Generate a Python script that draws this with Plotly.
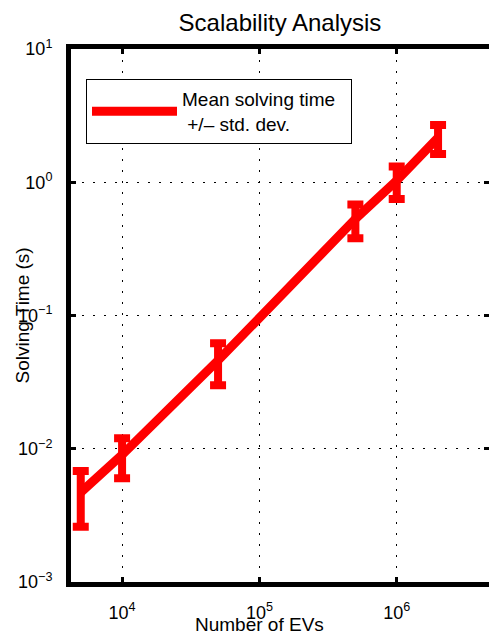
import plotly.graph_objects as go

num_evs = [5000, 10000, 50000, 500000, 1000000, 2000000]
mean_time = [0.0047, 0.0090, 0.046, 0.53, 1.03, 2.16]
std_time = [0.0021, 0.0030, 0.016, 0.15, 0.28, 0.53]
x_ticks = [1e4, 1e5, 1e6]
x_tick_text = ["10<sup>4</sup>", "10<sup>5</sup>", "10<sup>6</sup>"]
y_ticks = [1e-3, 1e-2, 1e-1, 1e0, 1e1]
y_tick_text = ["10<sup>\u22123</sup>", "10<sup>\u22122</sup>", "10<sup>\u22121</sup>",
               "10<sup>0</sup>", "10<sup>1</sup>"]

FONT = "Liberation Sans, Arial, sans-serif"

fig = go.Figure()
fig.add_trace(go.Scatter(
    x=num_evs, y=mean_time, mode="lines",
    name="Mean solving time&nbsp;&nbsp;<br>&nbsp;+/\u2013 std. dev.",
    line=dict(color="#ff0000", width=9),
    error_y=dict(type="data", array=std_time, visible=True,
                 color="#ff0000", thickness=8, width=8),
))

axis_common = dict(
    type="log", showline=True, linecolor="black", linewidth=5, mirror="ticks",
    ticks="inside", ticklen=5, tickwidth=3, tickcolor="black",
    showgrid=True, gridcolor="black", gridwidth=1, griddash="2px,9px",
    zeroline=False, automargin=False,
    tickfont=dict(family=FONT, size=18, color="black"),
)

fig.update_layout(
    width=489, height=635,
    margin=dict(l=71, r=0, t=49, b=53, autoexpand=False),
    paper_bgcolor="white", plot_bgcolor="white",
    font=dict(family=FONT, color="black"),
    title=dict(text="Scalability Analysis", x=(71 + 489) / 2 / 489, xanchor="center",
               y=1 - 23 / 635, yanchor="middle", yref="container",
               font=dict(size=24, family=FONT, color="black")),
    xaxis=dict(axis_common, range=[3.628, 6.672], tickvals=x_ticks,
               ticktext=x_tick_text, ticklabelstandoff=10),
    yaxis=dict(axis_common, range=[-3, 1], tickvals=y_ticks,
               ticktext=y_tick_text, ticklabelstandoff=10),
    showlegend=True,
    legend=dict(x=(86 - 71) / 418, y=(582 - 79) / 533, xanchor="left", yanchor="top",
                bordercolor="black", borderwidth=1, bgcolor="white",
                itemwidth=85, font=dict(size=19, family=FONT, color="black")),
    annotations=[
        dict(text="Number of EVs", xref="paper", yref="paper",
             x=(259 - 71) / 418, y=-(624 - 582) / 533, xanchor="center", yanchor="middle",
             showarrow=False, font=dict(size=19, family=FONT, color="black")),
        dict(text="Solving Time (s)", xref="paper", yref="paper",
             x=-(71 - 22) / 418, y=0.5, xanchor="center", yanchor="middle",
             textangle=-90, showarrow=False,
             font=dict(size=19, family=FONT, color="black")),
    ],
)

fig.write_html("out.html")
